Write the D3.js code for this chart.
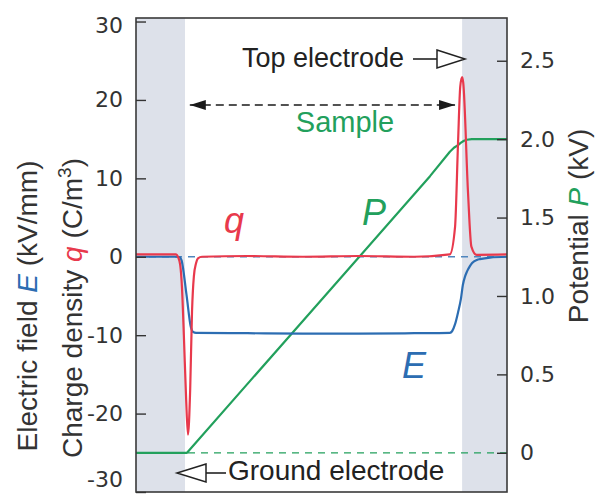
<!DOCTYPE html>
<html>
<head>
<meta charset="utf-8">
<script src="https://cdn.jsdelivr.net/npm/d3@7"></script>
<style>
  html, body { margin: 0; padding: 0; background: #fff; }
  svg { display: block; }
  text { font-family: "Liberation Sans", Arial, Helvetica, sans-serif; }
</style>
</head>
<body>
<svg id="chart" width="595" height="495"></svg>
<script>
// ---- data (position across the specimen, arbitrary 0-100 units) ----
const groundElectrode = [0, 13.2];
const topElectrode = [87.9, 100];

const qData = [
  [0, 0.3], [9, 0.3], [10.8, 0.3], [11.3, 0], [11.9, -1], [12.4, -4], [12.9, -10],
  [13.5, -18], [14.0, -22.7], [14.6, -17], [15.1, -7], [15.6, -2.5], [16.2, -0.8],
  [16.7, -0.2], [17.8, 0], [30, 0.1], [45, 0], [60, 0.1], [75, 0], [84.6, 0.3],
  [86.0, 3.8], [86.8, 14.5], [87.4, 21.7], [87.9, 22.9], [88.2, 22.2], [89.5, 8.1],
  [90.4, 1.3], [91.8, 0.25], [100, 0.3]
];

const eData = [
  [0, 0], [10.8, 0], [11.9, -0.1], [12.3, -0.5], [13.6, -4.8], [14.8, -9.0],
  [15.4, -9.6], [16.2, -9.7], [30, -9.75], [45, -9.8], [60, -9.8], [75, -9.75],
  [84.6, -9.7], [85.2, -9.5], [86.0, -8.6], [86.8, -7.1], [87.6, -5.3], [88.1, -3.6],
  [88.7, -2.5], [89.2, -1.9], [90.0, -1.2], [90.6, -0.8], [91.9, -0.4], [92.7, -0.3],
  [95.4, -0.1], [100, 0]
];

const pData = [
  [0, 0], [13.75, 0], [30.7, 0.457], [44.2, 0.82], [59.6, 1.234], [71.2, 1.546],
  [79.25, 1.764], [84.6, 1.92], [85.7, 1.945], [86.8, 1.962], [87.6, 1.978],
  [88.4, 1.99], [89.2, 1.996], [90.5, 2.0], [100, 2.0]
];

const leftTicks = [30, 20, 10, 0, -10, -20, -30];
const rightTicks = [0, 0.5, 1.0, 1.5, 2.0, 2.5];
const rightTickLabels = ["0", "0.5", "1.0", "1.5", "2.0", "2.5"];

// ---- layout ----
const W = 595, H = 495;
const L = 136, R = 507, T = 18, B = 492;

const colRed = "#e8394c", colBlue = "#2c6db2", colGreen = "#22a05c";

const svg = d3.select("#chart");

const x = d3.scaleLinear().domain([0, 100]).range([L, R]);
const y = d3.scaleLinear().domain([-30, 30.45]).range([B, T]);
const yP = d3.scaleLinear().domain([-0.25, 2.7725]).range([B, T]);

// shading for electrodes
svg.selectAll("rect.shade")
  .data([groundElectrode, topElectrode])
  .enter().append("rect")
  .attr("class", "shade")
  .attr("x", d => x(d[0]))
  .attr("width", d => x(d[1]) - x(d[0]))
  .attr("y", T)
  .attr("height", B - T)
  .attr("fill", "#dde1ea");

// dashed zero lines
svg.append("line")
  .attr("x1", x(0)).attr("x2", x(100))
  .attr("y1", y(0)).attr("y2", y(0))
  .attr("stroke", "#4f86bd").attr("stroke-width", 1.3)
  .attr("stroke-dasharray", "7,6");
svg.append("line")
  .attr("x1", x(0)).attr("x2", x(100))
  .attr("y1", yP(0)).attr("y2", yP(0))
  .attr("stroke", colGreen).attr("stroke-width", 1.3)
  .attr("stroke-dasharray", "7,6");

const lineLeft = d3.line().x(d => x(d[0])).y(d => y(d[1])).curve(d3.curveMonotoneX);
const lineP = d3.line().x(d => x(d[0])).y(d => yP(d[1]));

svg.append("path").attr("d", lineP(pData))
  .attr("fill", "none").attr("stroke", colGreen).attr("stroke-width", 2.2)
  .attr("stroke-linejoin", "round");
svg.append("path").attr("d", lineLeft(eData))
  .attr("fill", "none").attr("stroke", colBlue).attr("stroke-width", 2.2);
svg.append("path").attr("d", lineLeft(qData))
  .attr("fill", "none").attr("stroke", colRed).attr("stroke-width", 2.2);

// frame
svg.append("rect")
  .attr("x", L).attr("y", T).attr("width", R - L).attr("height", B - T)
  .attr("fill", "none").attr("stroke", "#3a3a3a").attr("stroke-width", 1.6);

// axes
const axL = d3.axisLeft(y).tickValues(leftTicks).tickSizeInner(-10).tickSizeOuter(0).tickPadding(13)
  .tickFormat(d => String(d));
const gL = svg.append("g").attr("transform", `translate(${L},0)`).call(axL);
const axR = d3.axisRight(yP).tickValues(rightTicks).tickSizeInner(-10).tickSizeOuter(0).tickPadding(13)
  .tickFormat((d, i) => rightTickLabels[i]);
const gR = svg.append("g").attr("transform", `translate(${R},0)`).call(axR);
[gL, gR].forEach(g => {
  g.select(".domain").remove();
  g.selectAll(".tick line").attr("stroke", "#333").attr("stroke-width", 1.4);
  g.selectAll(".tick text")
    .attr("fill", "#333")
    .style("font-family", '"DejaVu Sans", sans-serif')
    .style("font-size", "22px");
});
// nudge the extreme labels inside the picture, as in the reference
gL.selectAll(".tick text").attr("dy", d => d === 30 ? "0.5em" : d === -30 ? "-0.25em" : "0.32em");

// axis titles
const tL1 = svg.append("text")
  .attr("transform", `translate(37,306) rotate(-90)`)
  .attr("text-anchor", "middle")
  .style("font-size", "28px").attr("fill", "#333");
tL1.append("tspan").text("Electric field ");
tL1.append("tspan").text("E").attr("fill", colBlue).style("font-style", "italic");
tL1.append("tspan").text(" (kV/mm)");

const tL2 = svg.append("text")
  .attr("transform", `translate(82,308) rotate(-90)`)
  .attr("text-anchor", "middle")
  .style("font-size", "28px").attr("fill", "#333");
tL2.append("tspan").text("Charge density ");
tL2.append("tspan").text("q").attr("fill", colRed).style("font-style", "italic");
tL2.append("tspan").text(" (C/m");
tL2.append("tspan").text("3").attr("dy", -11).style("font-size", "19px");
tL2.append("tspan").text(")").attr("dy", 11);

const tR = svg.append("text")
  .attr("transform", `translate(588,226) rotate(-90)`)
  .attr("text-anchor", "middle")
  .style("font-size", "28px").attr("fill", "#333");
tR.append("tspan").text("Potential ");
tR.append("tspan").text("P").attr("fill", colGreen).style("font-style", "italic");
tR.append("tspan").text(" (kV)");

// series labels
svg.append("text").attr("x", 224).attr("y", 233).text("q")
  .attr("fill", colRed).style("font-style", "italic").style("font-size", "36px");
svg.append("text").attr("x", 362).attr("y", 225).text("P")
  .attr("fill", colGreen).style("font-style", "italic").style("font-size", "36px");
svg.append("text").attr("x", 402).attr("y", 378).text("E")
  .attr("fill", colBlue).style("font-style", "italic").style("font-size", "36px");

// Sample double arrow
const defs = svg.append("defs");
defs.append("marker").attr("id", "arrFill")
  .attr("viewBox", "0 0 16 10").attr("refX", 16).attr("refY", 5)
  .attr("markerWidth", 16).attr("markerHeight", 10).attr("markerUnits", "userSpaceOnUse")
  .attr("orient", "auto-start-reverse")
  .append("path").attr("d", "M0,0 L16,5 L0,10 Z").attr("fill", "#1a1a1a");

svg.append("line")
  .attr("x1", x(14.5)).attr("x2", x(86.0))
  .attr("y1", 105).attr("y2", 105)
  .attr("stroke", "#1a1a1a").attr("stroke-width", 1.6)
  .attr("stroke-dasharray", "8,5")
  .attr("marker-start", "url(#arrFill)")
  .attr("marker-end", "url(#arrFill)");

svg.append("text").attr("x", 345).attr("y", 132).attr("text-anchor", "middle")
  .text("Sample").attr("fill", colGreen).style("font-size", "29px");

// Top electrode annotation
svg.append("text").attr("x", 242).attr("y", 67).text("Top electrode")
  .attr("fill", "#222").style("font-size", "27px");
svg.append("line").attr("x1", 413).attr("x2", 437).attr("y1", 59).attr("y2", 59)
  .attr("stroke", "#222").attr("stroke-width", 1.6);
svg.append("path").attr("d", "M437,50 L465,59 L437,68 Z")
  .attr("fill", "#fff").attr("stroke", "#222").attr("stroke-width", 1.5);

// Ground electrode annotation
svg.append("text").attr("x", 228).attr("y", 480).text("Ground electrode")
  .attr("fill", "#222").style("font-size", "28px");
svg.append("line").attr("x1", 206).attr("x2", 226).attr("y1", 473).attr("y2", 473)
  .attr("stroke", "#222").attr("stroke-width", 1.6);
svg.append("path").attr("d", "M206,464 L177,473 L206,482 Z")
  .attr("fill", "#fff").attr("stroke", "#222").attr("stroke-width", 1.5);
</script>
</body>
</html>
